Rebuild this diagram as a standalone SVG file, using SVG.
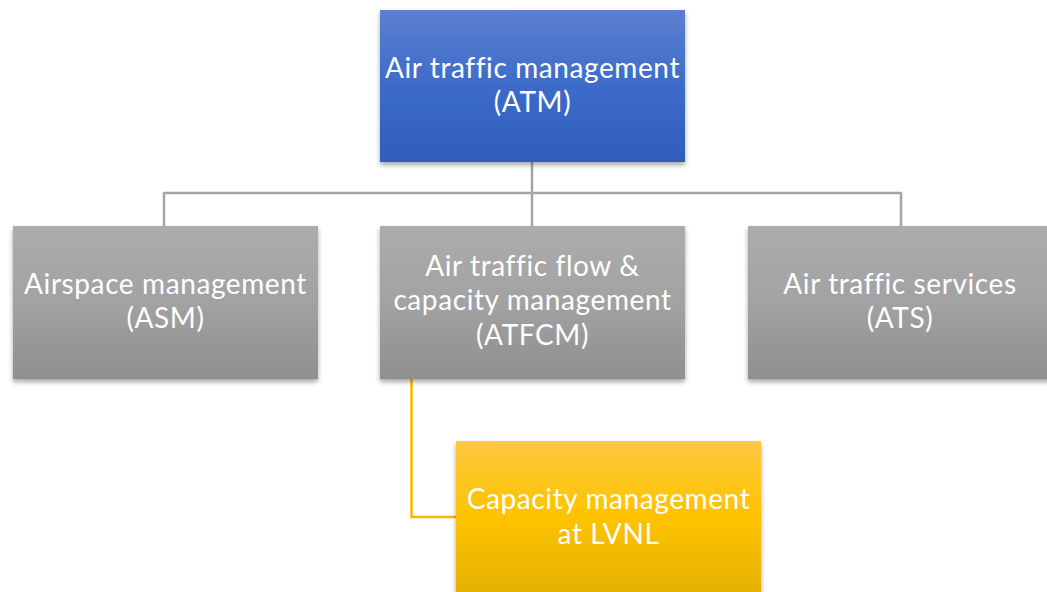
<svg xmlns="http://www.w3.org/2000/svg" width="1047" height="592" viewBox="0 0 1047 592">
<defs>
<linearGradient id="gBlue" x1="0" y1="0" x2="0" y2="1"><stop offset="0" stop-color="#5b80cf"/><stop offset="0.5" stop-color="#3d6bc9"/><stop offset="1" stop-color="#2f5ebf"/></linearGradient>
<linearGradient id="gGray" x1="0" y1="0" x2="0" y2="1"><stop offset="0" stop-color="#acacac"/><stop offset="0.5" stop-color="#a2a2a2"/><stop offset="1" stop-color="#8f8f8f"/></linearGradient>
<linearGradient id="gYel" x1="0" y1="0" x2="0" y2="1"><stop offset="0" stop-color="#fdc843"/><stop offset="0.45" stop-color="#ffc300"/><stop offset="1" stop-color="#e3b000"/></linearGradient>
<filter id="sh" x="-10%" y="-10%" width="120%" height="125%"><feDropShadow dx="0" dy="3" stdDeviation="2.5" flood-color="#000" flood-opacity="0.35"/></filter>
</defs>
<style>
text{font-family:Lato,"Open Sans","Liberation Sans",sans-serif;font-size:28px;letter-spacing:0.6px;font-variant-ligatures:none;fill:#fff;text-anchor:middle}
.cg{fill:none;stroke:#a5a5a5;stroke-width:2.5}
.cy{fill:none;stroke:#f3b800;stroke-width:2.5}
</style>
<g id="connectors">
<path class="cg" d="M532 162V226M164 226V193H901V226"/>
<path class="cy" d="M411.5 379V517H456"/>
</g>
<g id="atm"><rect x="380" y="10" width="305" height="152" fill="url(#gBlue)" filter="url(#sh)"/><text><tspan x="532.5" y="78">Air traffic management</tspan><tspan x="532.5" y="112">(ATM)</tspan></text></g>
<g id="asm"><rect x="13" y="226" width="305" height="153" fill="url(#gGray)" filter="url(#sh)"/><text><tspan x="165.5" y="294">Airspace management</tspan><tspan x="165.5" y="328">(ASM)</tspan></text></g>
<g id="atfcm"><rect x="380" y="226" width="305" height="153" fill="url(#gGray)" filter="url(#sh)"/><text><tspan x="532.5" y="276">Air traffic flow &amp;</tspan><tspan x="532.5" y="310">capacity management</tspan><tspan x="532.5" y="345">(ATFCM)</tspan></text></g>
<g id="ats"><rect x="748" y="226" width="305" height="153" fill="url(#gGray)" filter="url(#sh)"/><text><tspan x="900" y="294">Air traffic services</tspan><tspan x="900" y="328">(ATS)</tspan></text></g>
<g id="lvnl"><rect x="456" y="441" width="305" height="160" fill="url(#gYel)" filter="url(#sh)"/><text><tspan x="608.5" y="509">Capacity management</tspan><tspan x="608.5" y="544">at LVNL</tspan></text></g>
</svg>
